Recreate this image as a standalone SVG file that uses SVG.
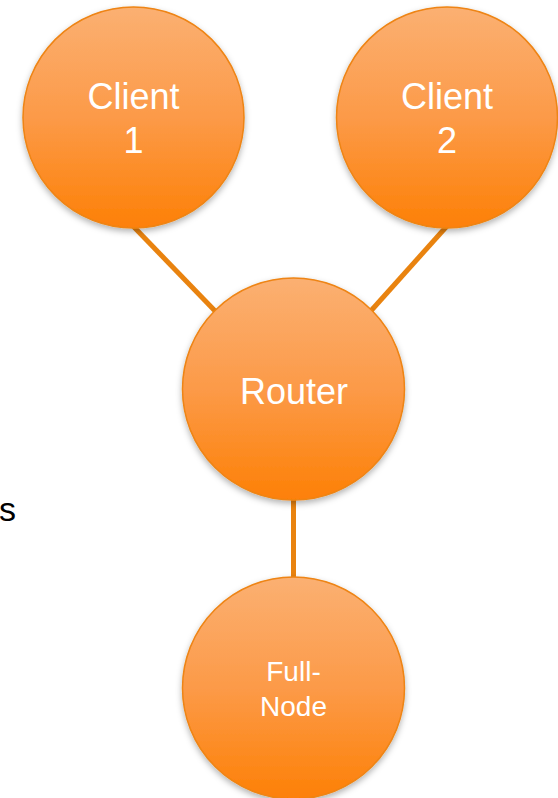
<svg xmlns="http://www.w3.org/2000/svg" width="558" height="798" viewBox="0 0 558 798">
  <defs>
    <linearGradient id="orangeFill" x1="0" y1="0" x2="0" y2="1">
      <stop offset="0" stop-color="#FBB072"/>
      <stop offset="0.5" stop-color="#FC9A48"/>
      <stop offset="1" stop-color="#FD8006"/>
    </linearGradient>
    <filter id="softShadow" x="-20%" y="-20%" width="140%" height="140%">
      <feDropShadow dx="0" dy="3" stdDeviation="3" flood-color="#000" flood-opacity="0.3"/>
    </filter>
  </defs>
  <style>
    .node { fill: url(#orangeFill); stroke: #EE8413; stroke-width: 1.5; filter: url(#softShadow); }
    .label { fill: #FFFFFF; font-family: "Liberation Sans", Arial, sans-serif; text-anchor: middle; }
    .link { stroke: #E9830F; stroke-width: 5; fill: none; }
  </style>

  <rect width="558" height="798" fill="#FFFFFF"/>

  <text x="-1" y="521" font-family="Liberation Sans, Arial, sans-serif" font-size="34" fill="#000000">s</text>

  <g id="connectors">
    <line class="link" x1="133" y1="226" x2="217" y2="313"/>
    <line class="link" x1="447" y1="226" x2="369" y2="313"/>
    <line class="link" x1="293.5" y1="498" x2="293.5" y2="580"/>
  </g>

  <g id="client1">
    <circle class="node" cx="133.5" cy="117.5" r="110.5"/>
    <text class="label" x="133.5" y="109" font-size="36">Client</text>
    <text class="label" x="133.5" y="153" font-size="36">1</text>
  </g>

  <g id="client2">
    <circle class="node" cx="447" cy="117.5" r="110.5"/>
    <text class="label" x="447" y="109" font-size="36">Client</text>
    <text class="label" x="447" y="153" font-size="36">2</text>
  </g>

  <g id="router">
    <circle class="node" cx="293.5" cy="389" r="111"/>
    <text class="label" x="294" y="404" font-size="36">Router</text>
  </g>

  <g id="fullnode">
    <circle class="node" cx="293.5" cy="688" r="111"/>
    <text class="label" x="293.5" y="681" font-size="28">Full-</text>
    <text class="label" x="293.5" y="716" font-size="28">Node</text>
  </g>
</svg>
